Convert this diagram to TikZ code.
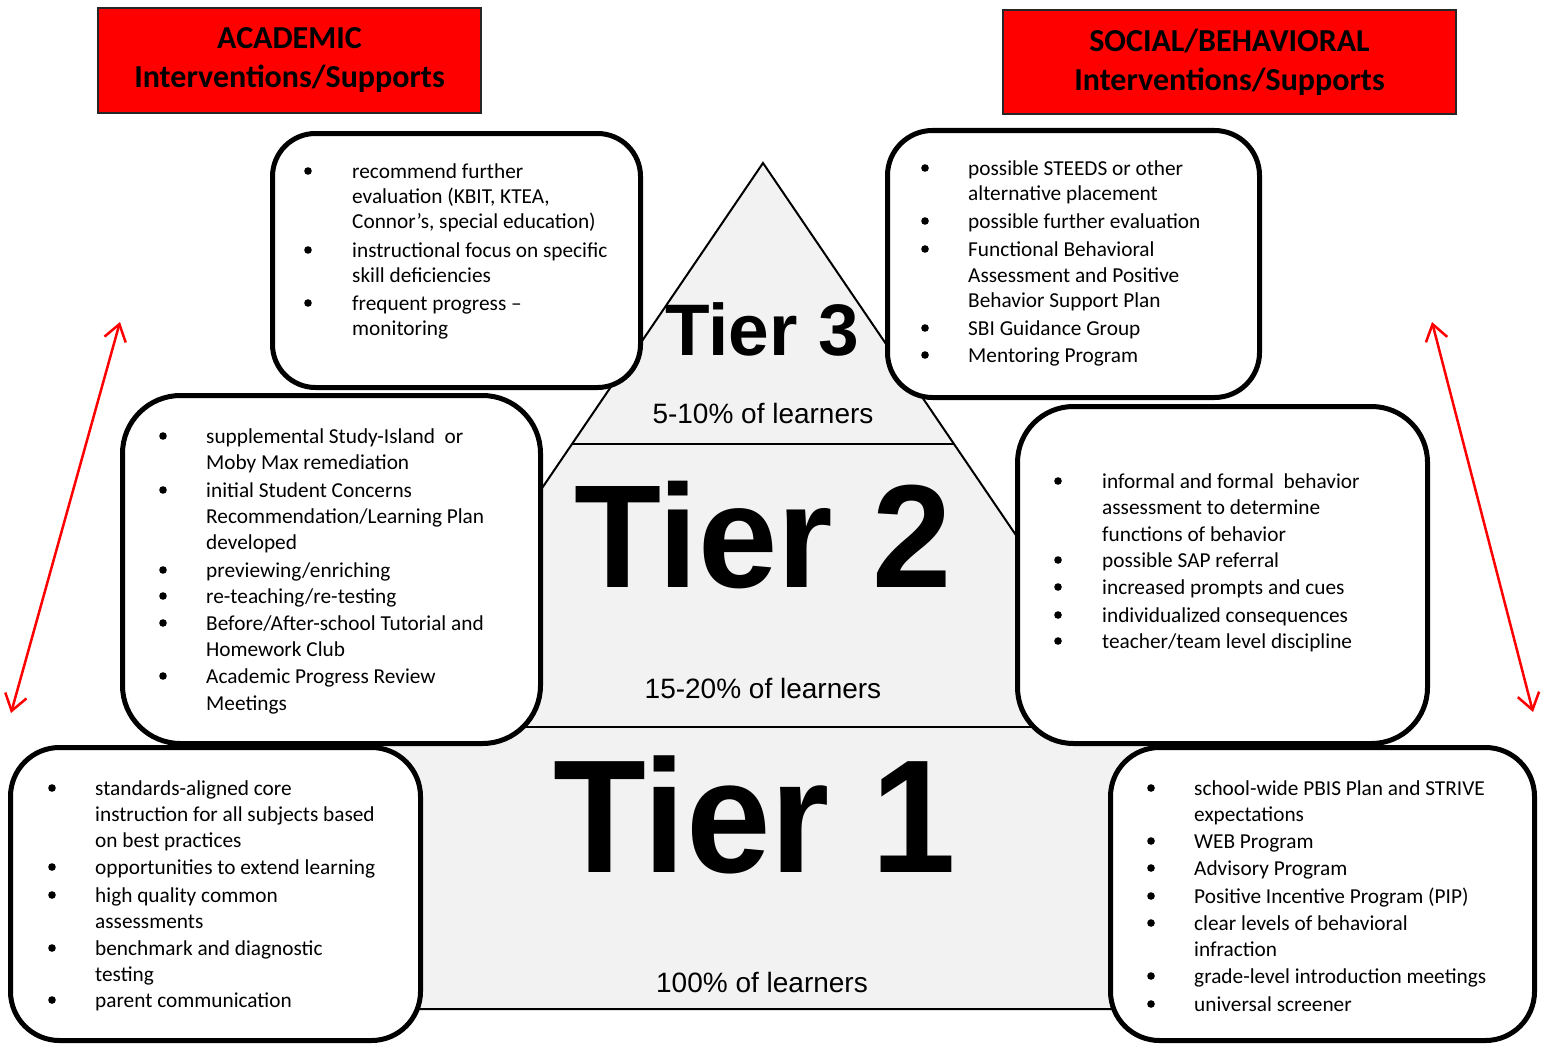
\documentclass[tikz,border=0pt]{standalone}
\usepackage{fontspec}
\setmainfont{Carlito}
\newfontfamily\arialf{Liberation Sans}
\usetikzlibrary{arrows.meta}
\definecolor{pyrgray}{HTML}{F2F2F2}
\definecolor{hdrred}{HTML}{FF0000}
\begin{document}
\begin{tikzpicture}[x=1pt,y=-1pt,
  box/.style={draw=black, line width=5pt, fill=white, inner sep=0pt, outer sep=0pt},
  hdr/.style={draw=black!85, line width=2pt, fill=hdrred, inner sep=0pt, outer sep=0pt, align=center, font=\fontsize{32}{39}\selectfont\bfseries},
  txt/.style={anchor=base west, inner sep=0pt, font=\fontsize{21.3}{26}\selectfont},
  tierlab/.style={anchor=base, inner sep=0pt},
  pct/.style={anchor=base, inner sep=0pt, font=\arialf\fontsize{28}{32}\selectfont},
  redarrow/.style={draw=hdrred, line width=2.5pt, {Straight Barb[length=16pt,width=22pt]}-{Straight Barb[length=16pt,width=22pt]}}
]
\useasboundingbox (0,0) rectangle (1546,1046);
\fill[white] (0,0) rectangle (1546,1046);

% pyramid
\fill[pyrgray] (763,163) -- (1338,1009) -- (188,1009) -- cycle;
\draw[line width=2pt] (763,163) -- (1338,1009) -- (188,1009) -- cycle;
\draw[line width=2pt] (572,444) -- (954,444);
\draw[line width=2pt] (379.5,727) -- (1146.5,727);

% tier labels
\node[tierlab, font=\arialf\bfseries\fontsize{73}{80}\selectfont] (t3) at (762,355) {Tier 3};
\node[tierlab, font=\arialf\bfseries\fontsize{142.5}{150}\selectfont] (t2) at (763,587) {\scalebox{1}[1.03]{Tier 2}};
\node[tierlab, font=\arialf\bfseries\fontsize{152}{160}\selectfont] (t1) at (755,872) {\scalebox{1}[1.06]{Tier 1}};
\node[pct] (p3) at (763,423) {5-10\% of learners};
\node[pct] (p2) at (763,698) {15-20\% of learners};
\node[pct] (p1) at (762,992) {100\% of learners};

% headers
\node[hdr, minimum width=383, minimum height=105] (hacad) at (289.5,60.5) {ACADEMIC\\Interventions/Supports};
\node[hdr, minimum width=453, minimum height=104] (hsoc) at (1229.5,62) {SOCIAL/BEHAVIORAL\\Interventions/Supports};

% boxes
\node[box, minimum width=368, minimum height=254, rounded corners=43] (a3) at (456.5,260.5) {};
\node[box, minimum width=372, minimum height=267, rounded corners=45] (s3) at (1073.5,264) {};
\node[box, minimum width=418, minimum height=348, rounded corners=58] (a2) at (331.5,569.5) {};
\node[box, minimum width=410, minimum height=337, rounded corners=56] (s2) at (1222.5,575) {};
\node[box, minimum width=410, minimum height=293, rounded corners=49] (a1) at (215.5,894) {};
\node[box, minimum width=424, minimum height=293, rounded corners=49] (s1) at (1322.5,894) {};

% A3 text
\foreach \yy/\lab [count=\i] in {178/{recommend further}, 203/{evaluation (KBIT, KTEA,}, 228/{Connor’s, special education)}, 257/{instructional focus on specific}, 282/{skill deficiencies}, 310/{frequent progress –}, 335/{monitoring}}
  \node[txt] (a3t\i) at (352,\yy) {\lab};
\foreach \yy in {178,257,310} \fill (308,\yy-7) circle (3.8pt);

% S3 text
\foreach \yy/\lab [count=\i] in {175/{possible STEEDS or other}, 200/{alternative placement}, 228/{possible further evaluation}, 256/{Functional Behavioral}, 282/{Assessment and Positive}, 307/{Behavior Support Plan}, 335/{SBI Guidance Group}, 362/{Mentoring Program}}
  \node[txt] (s3t\i) at (968,\yy) {\lab};
\foreach \yy in {175,228,256,335,362} \fill (925,\yy-7) circle (3.8pt);

% A2 text
\foreach \yy/\lab [count=\i] in {443/{supplemental Study-Island\ \ or}, 469/{Moby Max remediation}, 497/{initial Student Concerns}, 523/{Recommendation/Learning Plan}, 549/{developed}, 577/{previewing/enriching}, 603/{re-teaching/re-testing}, 630/{Before/After-school Tutorial and}, 656/{Homework Club}, 683/{Academic Progress Review}, 710/{Meetings}}
  \node[txt] (a2t\i) at (206,\yy) {\lab};
\foreach \yy in {443,497,577,603,630,683} \fill (163,\yy-7) circle (3.8pt);

% S2 text
\foreach \yy/\lab [count=\i] in {488/{informal and formal\ \ behavior}, 514/{assessment to determine}, 541/{functions of behavior}, 567/{possible SAP referral}, 594/{increased prompts and cues}, 622/{individualized consequences}, 648/{teacher/team level discipline}}
  \node[txt] (s2t\i) at (1102,\yy) {\lab};
\foreach \yy in {488,567,594,622,648} \fill (1058,\yy-7) circle (3.8pt);

% A1 text
\foreach \yy/\lab [count=\i] in {795/{standards-aligned core}, 821/{instruction for all subjects based}, 847/{on best practices}, 874/{opportunities to extend learning}, 902/{high quality common}, 928/{assessments}, 955/{benchmark and diagnostic}, 981/{testing}, 1007/{parent communication}}
  \node[txt] (a1t\i) at (95,\yy) {\lab};
\foreach \yy in {795,874,902,955,1007} \fill (52,\yy-7) circle (3.8pt);

% S1 text
\foreach \yy/\lab [count=\i] in {795/{school-wide PBIS Plan and STRIVE}, 821/{expectations}, 848/{WEB Program}, 875/{Advisory Program}, 903/{Positive Incentive Program (PIP)}, 930/{clear levels of behavioral}, 956/{infraction}, 983/{grade-level introduction meetings}, 1011/{universal screener}}
  \node[txt] (s1t\i) at (1194,\yy) {\lab};
\foreach \yy in {795,848,875,903,930,983,1011} \fill (1151,\yy-7) circle (3.8pt);

% arrows
\coordinate (la1) at (120,322);
\coordinate (la2) at (11,713);
\coordinate (ra1) at (1432,322);
\coordinate (ra2) at (1533,712);
\draw[redarrow] (la1) -- (la2);
\draw[redarrow] (ra1) -- (ra2);
\end{tikzpicture}
\end{document}
